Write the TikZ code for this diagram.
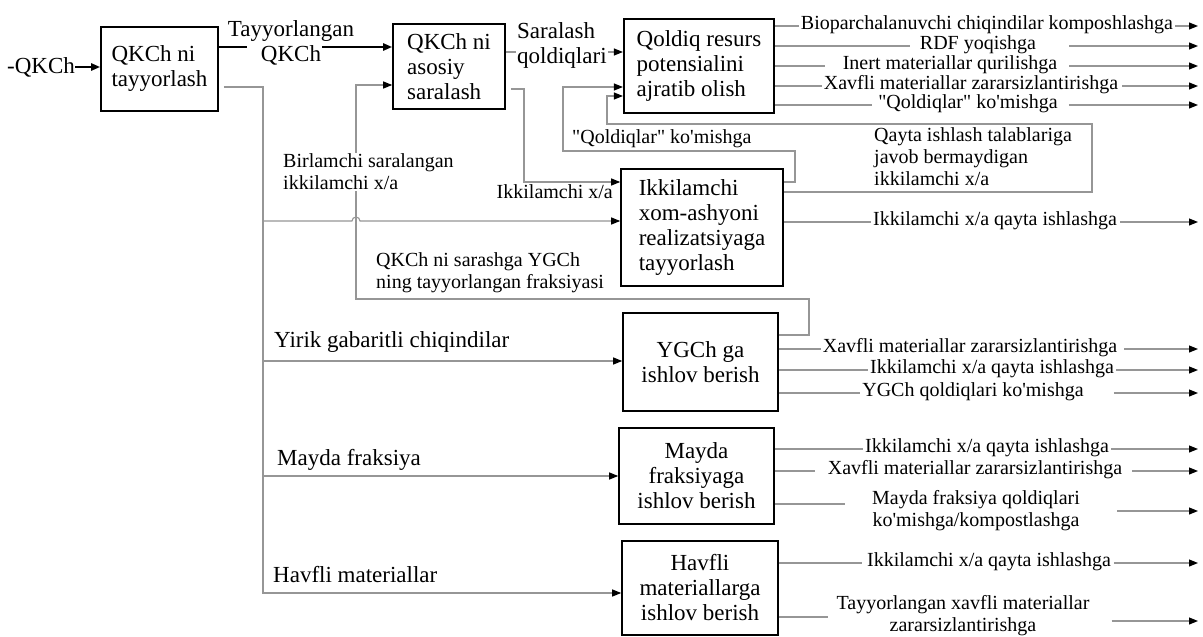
\documentclass[tikz,border=0pt]{standalone}
\usepackage{fontspec}
\setmainfont{Liberation Serif}
% a second family without the TeX input mapping keeps " and ' straight
\newfontfamily\serif{Liberation Serif}
\usetikzlibrary{arrows.meta}
\definecolor{wire}{RGB}{150,150,150}
\newcommand\bigtxt{\serif\fontsize{23}{25}\selectfont}
\newcommand\smalltxt{\serif\fontsize{20}{22}\selectfont}

\begin{document}
\begin{tikzpicture}[x=1pt,y=-1pt,
  box/.style={draw=black,line width=1.6pt,inner sep=0pt,font=\bigtxt,align=left},
  cbox/.style={box,align=center},
  wire/.style={draw=wire,line width=1.1pt},
  tip/.style={-{Triangle[length=9pt,width=7pt,color=black]}},
  heavy/.style={draw=black,line width=2.2pt},
  lab/.style={font=\smalltxt,inner sep=1pt,align=left},
  blab/.style={font=\bigtxt,inner sep=1pt,align=left},
  olab/.style={font=\smalltxt,inner sep=0pt,align=center},
]
\useasboundingbox[fill=white] (0,0) rectangle (1203,637);

% process boxes
\node[box,minimum width=117pt,minimum height=84pt] (A) at (159.5,69) {QKCh ni\\tayyorlash};
\node[box,minimum width=112pt,minimum height=85pt] (B) at (449,66.5) {QKCh ni\\asosiy\\saralash};
\node[box,line width=2.2pt,minimum width=150pt,minimum height=94pt] (C) at (699,66) {Qoldiq resurs\\potensialini\\ajratib olish};
\node[box,minimum width=162pt,minimum height=117pt] (D) at (702,227.5) {Ikkilamchi\\xom-ashyoni\\realizatsiyaga\\tayyorlash};
\node[cbox,minimum width=155pt,minimum height=98pt] (E) at (700.5,362) {YGCh ga\\ishlov berish};
\node[cbox,minimum width=155pt,minimum height=96pt] (F) at (696.5,476) {Mayda\\fraksiyaga\\ishlov berish};
\node[cbox,minimum width=156pt,minimum height=94pt] (G) at (700,588) {Havfli\\materiallarga\\ishlov berish};

% incoming waste
\node[font=\bigtxt,inner sep=0pt,anchor=west] (src) at (7,67) {-QKCh};
\draw[heavy,tip] (src.east) -- (A.west |- src.east);

% prepared waste to main sorting
\node[blab,align=center] (tq) at (291,43) {Tayyorlangan\\QKCh};
\draw[heavy] (A.east |- 0,47) -- ([xshift=20pt]tq.west |- 0,47);
\draw[heavy,tip] ([xshift=-33pt]tq.east |- 0,47) -- (B.west |- 0,47);

% trunk from preparation
\coordinate (tr) at (263,87);
\draw[wire,tip] ([xshift=5pt]A.east |- tr) -- (tr) -- (tr |- 0,593) -- (G.west |- 0,593);
\draw[wire,tip] (tr |- 0,221) -- (352,221) arc[start angle=180,end angle=0,radius=4pt] -- (D.west |- 0,221);
\draw[wire,tip] (tr |- 0,361) -- (E.west |- 0,361);
\draw[wire,tip] (tr |- 0,476) -- (F.west |- 0,476);

% main sorting outputs
\draw[wire,tip] (B.east |- 0,52) -- (C.west |- 0,52);
\draw[wire,tip] ([xshift=5pt]B.east |- 0,89) -- (524,89) -- (524,182) -- (D.west |- 0,182);

% returns
\draw[wire,tip] (E.east |- 0,335) -- (809,335) -- (809,299) -- (356,299) -- (356,85) -- (B.west |- 0,85);
\draw[wire,tip] (D.east |- 0,182) -- (795,182) -- (795,151) -- (563,151) -- (563,87) -- (C.west |- 0,87);
\draw[wire,tip] (D.east |- 0,192) -- (1092,192) -- (1092,124) -- (607,124) -- (607,96) -- (C.west |- 0,96);

% labels on the inner flows
\node[blab,fill=white,anchor=west] (sq) at (516,45) {Saralash\\qoldiqlari};
\node[lab,anchor=east,inner sep=0pt] (ik) at (613,192) {Ikkilamchi x/a};
\node[lab,fill=white,anchor=west] (bl) at (282,172) {Birlamchi saralangan\\ikkilamchi x/a};
\node[lab,anchor=west] (yg) at (375,273) {QKCh ni sarashga YGCh\\ning tayyorlangan fraksiyasi};
\node[lab,anchor=west] (ql) at (571,139) {"Qoldiqlar" ko'mishga};
\node[lab,anchor=west] (qt) at (873,157) {Qayta ishlash talablariga\\javob bermaydigan\\ikkilamchi x/a};
\node[font=\bigtxt,inner sep=0pt,anchor=west] (yl) at (274,342) {Yirik gabaritli chiqindilar};
\node[font=\bigtxt,inner sep=0pt,anchor=west] (ml) at (277,460) {Mayda fraksiya};
\node[font=\bigtxt,inner sep=0pt,anchor=west] (hl) at (273,575) {Havfli materiallar};

% outputs to the right
\foreach \bx/\n/\y/\cx/\gl/\gr/\lbl in {
  C/c1/26/987/2/2/{Bioparchalanuvchi chiqindilar komposhlashga},
  C/c2/46/978/10/33/{RDF yoqishga},
  C/c3/66/950/18/12/{Inert materiallar qurilishga},
  C/c4/86/971/2/4/{Xavfli materiallar zararsizlantirishga},
  C/c5/105/968/6/11/{"Qoldiqlar" ko'mishga},
  D/d1/222/995/2/3/{Ikkilamchi x/a qayta ishlashga},
  E/e1/349/970/2/7/{Xavfli materiallar zararsizlantirishga},
  E/e2/370/992/2/2/{Ikkilamchi x/a qayta ishlashga},
  E/e3/393/973/2/30/{YGCh qoldiqlari ko'mishga},
  F/f1/449/987/2/2/{Ikkilamchi x/a qayta ishlashga},
  F/f2/471/975/13/10/{Xavfli materiallar zararsizlantirishga},
  G/g1/563/989/5/3/{Ikkilamchi x/a qayta ishlashga}}
{
  \node[olab] (\n) at (\cx,\y-1) {\lbl};
  \coordinate (\n e) at (1198,\y);
  \draw[wire] (\bx.east |- \n e) -- ([xshift=-\gl pt]\n.west |- \n e);
  \draw[wire,tip] ([xshift=\gr pt]\n.east |- \n e) -- (\n e);
}

\node[olab] (f3) at (976,511) {Mayda fraksiya qoldiqlari\\ko'mishga/kompostlashga};
\coordinate (f3e) at (1198,511);
\draw[wire] (F.east |- 0,504) -- ([xshift=-27pt]f3.west |- 0,504);
\draw[wire,tip] ([xshift=37pt]f3.east |- f3e) -- (f3e);

\node[olab] (g2) at (963,616) {Tayyorlangan xavfli materiallar\\zararsizlantirishga};
\coordinate (g2e) at (1198,621);
\draw[wire] (G.east |- 0,617) -- ([xshift=-8pt]g2.west |- 0,617);
\draw[wire,tip] ([xshift=22pt]g2.east |- g2e) -- (g2e);
\end{tikzpicture}
\end{document}
